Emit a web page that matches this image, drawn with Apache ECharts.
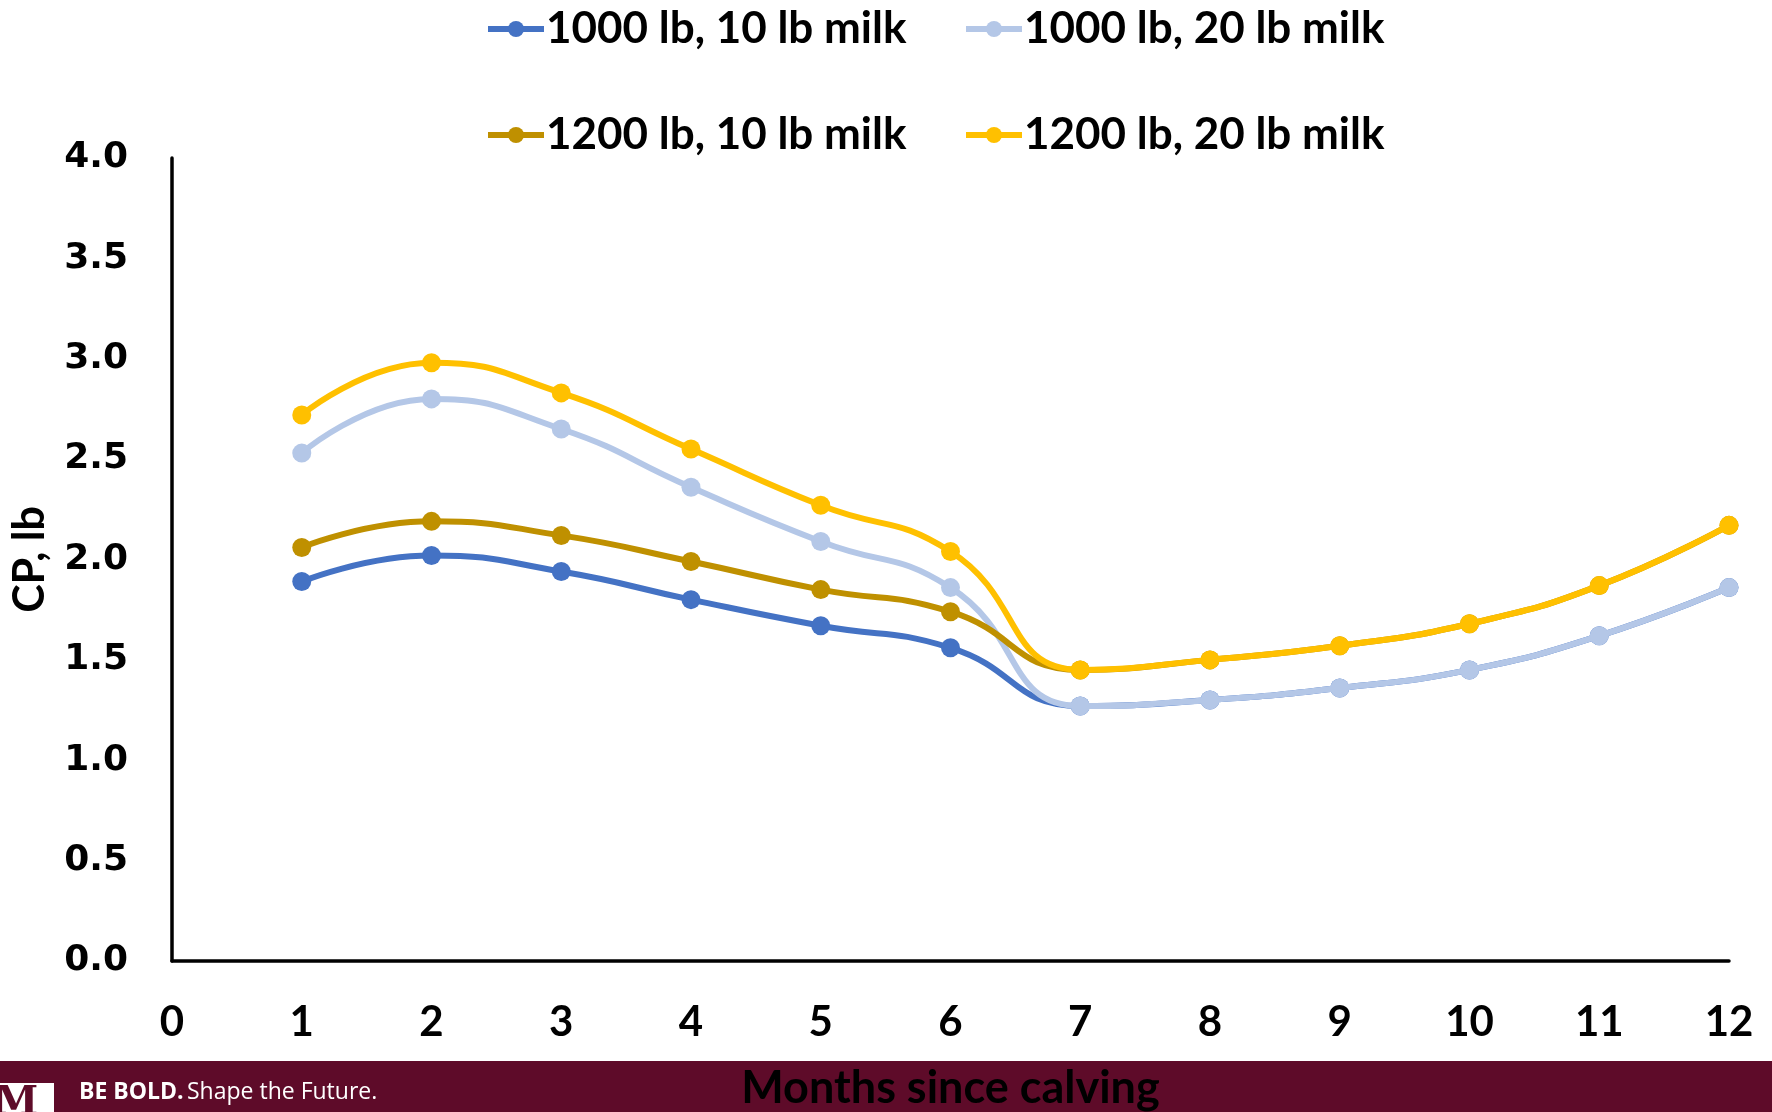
<!DOCTYPE html>
<html>
<head>
<meta charset="utf-8">
<script src="https://cdn.jsdelivr.net/npm/echarts@6/dist/echarts.min.js"></script>
<style>
  html, body { margin: 0; padding: 0; background: #ffffff; }
  #chart { width: 1772px; height: 1112px; }
</style>
</head>
<body>
<div id="chart"></div>
<script>
// Months since calving
const months = [1, 2, 3, 4, 5, 6, 7, 8, 9, 10, 11, 12];

// Crude protein requirement, lb/day
const cow1000milk10 = [1.89, 2.02, 1.94, 1.80, 1.67, 1.56, 1.27, 1.30, 1.36, 1.45, 1.62, 1.86];
const cow1000milk20 = [2.53, 2.80, 2.65, 2.36, 2.09, 1.86, 1.27, 1.30, 1.36, 1.45, 1.62, 1.86];
const cow1200milk10 = [2.06, 2.19, 2.12, 1.99, 1.85, 1.74, 1.45, 1.50, 1.57, 1.68, 1.87, 2.17];
const cow1200milk20 = [2.72, 2.98, 2.83, 2.55, 2.27, 2.04, 1.45, 1.50, 1.57, 1.68, 1.87, 2.17];

const seriesNames = ['1000 lb, 10 lb milk', '1000 lb, 20 lb milk', '1200 lb, 10 lb milk', '1200 lb, 20 lb milk'];
const seriesValues = [cow1000milk10, cow1000milk20, cow1200milk10, cow1200milk20];
const seriesColors = ['#4472C4', '#B4C7E7', '#BF9000', '#FFC000'];

const yTicks = [0, 4, 0.5];   // min, max, step
const xTicks = [0, 12, 1];

const labelFont = 'Lato, "Open Sans", sans-serif';

const chart = echarts.init(document.getElementById('chart'), null, { renderer: 'canvas' });

const legendPos = [
  { left: 480, top: 2 },
  { left: 958, top: 2 },
  { left: 480, top: 108 },
  { left: 958, top: 108 }
];

const option = {
  animation: false,
  backgroundColor: '#ffffff',
  legend: seriesNames.map((name, i) => ({
    data: [name],
    left: legendPos[i].left,
    top: legendPos[i].top,
    itemWidth: 56,
    itemHeight: 20,
    itemGap: 4,
    lineStyle: { width: 6 },
    textStyle: { fontFamily: labelFont, fontWeight: 'bold', fontSize: 44, color: '#000', padding: [0, 0, 0, -3] }
  })),
  grid: { left: 172, right: 43, top: 158, bottom: 151, containLabel: false, outerBoundsMode: 'none' },
  xAxis: {
    type: 'value',
    min: xTicks[0], max: xTicks[1], interval: xTicks[2],
    name: 'Months since calving',
    nameLocation: 'middle',
    nameGap: 105,
    nameTextStyle: { fontFamily: labelFont, fontWeight: 'bold', fontSize: 45, color: '#000' },
    axisLine: { show: true, lineStyle: { color: '#000', width: 3.5 } },
    axisTick: { show: false },
    splitLine: { show: false },
    axisLabel: { margin: 40, fontFamily: labelFont, fontWeight: 'bold', fontSize: 42, color: '#000' }
  },
  yAxis: {
    type: 'value',
    min: yTicks[0], max: yTicks[1], interval: yTicks[2],
    name: 'CP, lb',
    nameLocation: 'middle',
    nameGap: 120,
    nameTextStyle: { fontFamily: labelFont, fontWeight: 'bold', fontSize: 43, color: '#000' },
    axisLine: { show: true, lineStyle: { color: '#000', width: 3.5 } },
    axisTick: { show: false },
    splitLine: { show: false },
    axisLabel: {
      margin: 44,
      fontFamily: '"DejaVu Sans", sans-serif', fontWeight: 'bold', fontSize: 36, color: '#000',
      formatter: v => v.toFixed(1)
    }
  },
  series: seriesNames.map((name, i) => ({
    name: name,
    type: 'line',
    smooth: 0.5,
    data: months.map((m, j) => [m, seriesValues[i][j]]),
    symbol: 'circle',
    symbolSize: 19,
    lineStyle: { color: seriesColors[i], width: 6 },
    itemStyle: { color: seriesColors[i] },
    z: 2 + i
  })),
  graphic: [
    {
      type: 'rect',
      z: -10,
      shape: { x: 0, y: 1061, width: 1772, height: 51 },
      style: { fill: '#5E0B29' }
    },
    {
      type: 'rect',
      z: -9,
      shape: { x: 0, y: 1083, width: 54, height: 29 },
      style: { fill: '#ffffff' }
    },
    {
      type: 'text',
      z: -8,
      left: -6,
      top: 1084,
      style: { text: 'M', fill: '#5E0B29', font: 'bold 40px "DejaVu Serif", serif' }
    },
    {
      type: 'text',
      z: -8,
      left: 79,
      top: 1081,
      style: {
        text: '{b|BE BOLD.} {r|Shape the Future.}',
        rich: {
          b: { fill: '#ffffff', fontFamily: '"Open Sans", sans-serif', fontWeight: 'bold', fontSize: 23 },
          r: { fill: '#ffffff', fontFamily: '"Open Sans", sans-serif', fontSize: 23 }
        }
      }
    }
  ]
};

chart.setOption(option);
</script>
</body>
</html>
